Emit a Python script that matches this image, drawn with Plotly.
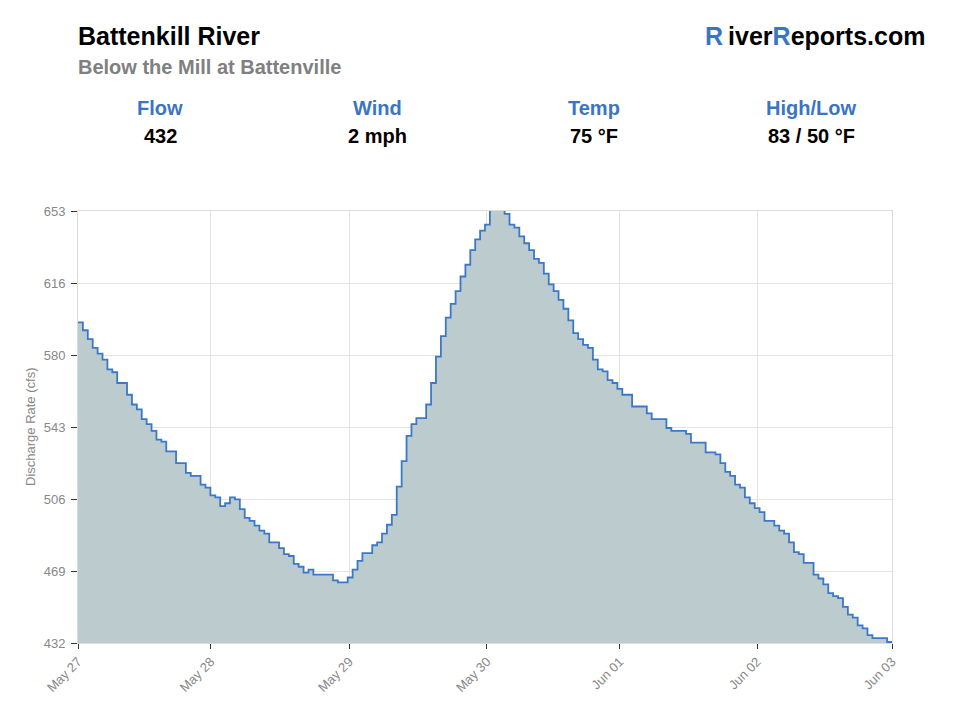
import numpy as np
import plotly.graph_objects as go

# Hourly discharge readings (cfs)
flow_values = [
    596, 592, 587.5, 583, 580, 577, 572, 570.5, 565, 565,
    559, 554, 551.5, 546.5, 544, 540.5, 536, 535, 530, 530,
    524, 524, 519, 517.5, 517.5, 513, 511.5, 507.5, 506.5, 502,
    503.5, 506.5, 505.5, 500.5, 496, 494.5, 492, 489.5, 488, 483.5,
    483.5, 480.5, 477.5, 476.5, 472.5, 471, 468, 469.5, 467, 467,
    467, 467, 464, 463, 463, 465.5, 469.5, 474, 478, 478,
    482, 483.5, 488, 492.5, 497.5, 512, 525, 538, 544, 547,
    547, 554, 565, 578.5, 589, 598.5, 605.5, 612, 619.5, 625.5,
    633, 638.5, 643, 646, 658, 658, 658, 651.5, 646, 644.5,
    640, 636.5, 633, 628.5, 626.5, 621, 615.5, 612, 607.5, 603,
    597, 590.5, 587.5, 584.5, 583, 577, 572, 571, 566.5, 565,
    562, 559, 559, 553, 553, 553, 549.5, 546.5, 546.5, 546.5,
    542, 540.5, 540.5, 540.5, 539, 534.5, 534.5, 534.5, 529.5, 529.5,
    528.5, 524, 519.5, 517.5, 513, 511.5, 506.5, 503.5, 501, 499,
    494.5, 494.5, 492, 489.5, 488, 483.5, 478.5, 477.5, 473, 473,
    467, 465, 462, 457.5, 456, 455, 450.5, 446.5, 445, 441,
    439.5, 436, 434.5, 434.5, 434.5, 432.5,
]
hours = list(range(len(flow_values) + 1))

x_tick_hours = [0, 27.1, 55.3, 83.4, 110.5, 138.5, 166]
x_tick_labels = ["May 27", "May 28", "May 29", "May 30", "Jun 01", "Jun 02", "Jun 03"]

y_min, y_max = 432, 653
y_tick_labels = ["432", "469", "506", "543", "580", "616", "653"]

stat_names = ["Flow", "Wind", "Temp", "High/Low"]
stat_values = ["432", "2 mph", "75 °F", "83 / 50 °F"]

FONT = "Liberation Sans, Arial, Helvetica, sans-serif"
BLUE = "#3a75c4"
LINE_BLUE = "#3b79c8"
FILL = "#bccbce"

fig = go.Figure()
fig.add_trace(go.Scatter(
    x=hours,
    y=flow_values + [flow_values[-1]],
    mode="lines",
    line=dict(shape="hv", color=LINE_BLUE, width=1.8),
    fill="tozeroy",
    fillcolor=FILL,
    hoverinfo="skip",
    showlegend=False,
))

W, H = 960, 720
L, R, T, B = 78, 68, 211, 77
pw, ph = W - L - R, H - T - B


def px_x(px):
    return (px - L) / pw


def px_y(py):
    return (H - B - py) / ph


annotations = [
    dict(text="<b>Battenkill River</b>", x=px_x(76), y=px_y(36), xanchor="left", yanchor="middle",
         font=dict(size=25, color="#000000", family=FONT)),
    dict(text="<b>Below the Mill at Battenville</b>", x=px_x(76), y=px_y(67), xanchor="left", yanchor="middle",
         font=dict(size=20, color="#808080", family=FONT)),
    dict(text=f"<b><span style='color:{BLUE}'>R</span>\u2009iver<span style='color:{BLUE}'>R</span>eports.com</b>",
         x=px_x(927), y=px_y(36), xanchor="right", yanchor="middle",
         font=dict(size=25, color="#000000", family=FONT)),
    dict(text="Discharge Rate (cfs)", x=px_x(30), y=0.5, xanchor="center", yanchor="middle", textangle=-90,
         font=dict(size=13, color="#888888", family=FONT)),
]
stat_centers = [160, 377, 594, 811]
for cx, name, val in zip(stat_centers, stat_names, stat_values):
    annotations.append(dict(text=f"<b>{name}</b>", x=px_x(cx), y=px_y(108), xanchor="center", yanchor="middle",
                            font=dict(size=20, color=BLUE, family=FONT)))
    annotations.append(dict(text=f"<b>{val}</b>", x=px_x(cx), y=px_y(136), xanchor="center", yanchor="middle",
                            font=dict(size=20, color="#000000", family=FONT)))
for a in annotations:
    a.update(xref="paper", yref="paper", showarrow=False)

fig.update_layout(
    width=W, height=H,
    margin=dict(l=L, r=R, t=T, b=B, pad=0),
    paper_bgcolor="white",
    plot_bgcolor="white",
    font=dict(family=FONT),
    annotations=annotations,
    xaxis=dict(
        range=[0, len(flow_values)],
        tickmode="array", tickvals=x_tick_hours, ticktext=x_tick_labels,
        tickangle=-45, tickfont=dict(size=13, color="#888888"),
        ticks="outside", ticklen=5, tickcolor="#333333",
        showgrid=True, gridcolor="#e3e3e3", gridwidth=1,
        showline=True, linecolor="#dcdcdc", linewidth=1, mirror=True,
        zeroline=False, fixedrange=True,
    ),
    yaxis=dict(
        range=[y_min, y_max],
        tickmode="array", tickvals=list(np.linspace(y_min, y_max, len(y_tick_labels))), ticktext=y_tick_labels,
        tickfont=dict(size=13, color="#888888"),
        ticks="outside", ticklen=6, tickcolor="#333333", ticklabelstandoff=3,
        showgrid=True, gridcolor="#e3e3e3", gridwidth=1,
        showline=True, linecolor="#dcdcdc", linewidth=1, mirror=True,
        zeroline=False, fixedrange=True,
    ),
)

fig.write_html("out.html")
